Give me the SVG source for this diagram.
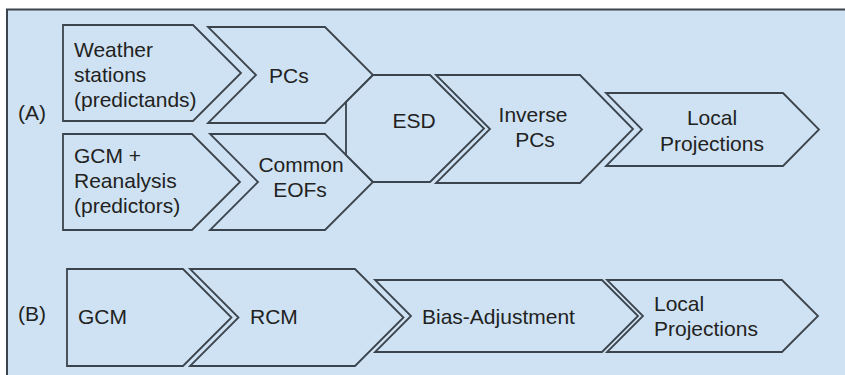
<svg xmlns="http://www.w3.org/2000/svg" width="845" height="375" viewBox="0 0 845 375">
<style>
.shape{fill:#cfe2f3;stroke:#3b444d;stroke-width:1.8;stroke-linejoin:miter}
.t{font-family:"Liberation Sans",Arial,sans-serif;font-size:21px;fill:#222}
.m{text-anchor:middle}
</style>
<rect x="0" y="0" width="845" height="375" fill="#ffffff"/>
<rect id="panel" x="7" y="9.5" width="850" height="380" fill="#cfe2f3" stroke="#3b444d" stroke-width="2"/>
<text class="t" x="18" y="120">(A)</text>
<text class="t" x="18" y="321">(B)</text>
<g id="weather">
<polygon class="shape" points="63,25 193,25 241,73 193,121 63,121"/>
<text class="t" x="74" y="57">Weather</text>
<text class="t" x="74" y="82">stations</text>
<text class="t" x="74" y="107">(predictands)</text>
</g>
<g id="pcs">
<polygon class="shape" points="208,27 325,27 373,75 325,123 208,123 256,75"/>
<text class="t" x="269" y="83">PCs</text>
</g>
<g id="gcmre">
<polygon class="shape" points="63,134 192,134 240,182 192,230 63,230"/>
<text class="t" x="74" y="163">GCM +</text>
<text class="t" x="74" y="188">Reanalysis</text>
<text class="t" x="74" y="213">(predictors)</text>
</g>
<g id="eofs">
<polygon class="shape" points="210,134 325,134 373,182 325,230 210,230 258,182"/>
<text class="t m" x="301" y="172">Common</text>
<text class="t m" x="300" y="197">EOFs</text>
</g>
<g id="esd">
<polygon class="shape" points="373,75 430,75 484,128.5 430,182 373,182 346,155 346,102"/>
<text class="t m" x="414" y="128">ESD</text>
</g>
<g id="invpcs">
<polygon class="shape" points="436,75 580,75 633,129 580,183 436,183 490,129"/>
<text class="t m" x="533" y="122">Inverse</text>
<text class="t m" x="535" y="147">PCs</text>
</g>
<g id="localA">
<polygon class="shape" points="606,93 783,93 819,129.5 783,166 606,166 642,129.5"/>
<text class="t m" x="712" y="125">Local</text>
<text class="t m" x="712" y="151">Projections</text>
</g>
<g id="gcm">
<polygon class="shape" points="67,269 183,269 231.5,317.5 183,366 67,366"/>
<text class="t" x="78" y="324">GCM</text>
</g>
<g id="rcm">
<polygon class="shape" points="190,269 355,269 403.5,317.5 355,366 190,366 238.5,317.5"/>
<text class="t" x="250" y="324">RCM</text>
</g>
<g id="bias">
<polygon class="shape" points="375,280 602,280 638,316 602,352 375,352 411,316"/>
<text class="t" x="422" y="324">Bias-Adjustment</text>
</g>
<g id="localB">
<polygon class="shape" points="607,280 782,280 818,316 782,352 607,352 643,316"/>
<text class="t" x="654" y="311">Local</text>
<text class="t" x="654" y="336">Projections</text>
</g>
<g id="connectors"></g>
</svg>
